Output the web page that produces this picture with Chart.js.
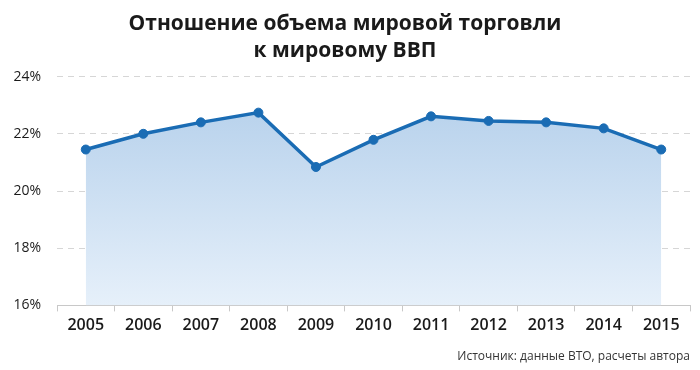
<!DOCTYPE html>
<html><head><meta charset="utf-8">
<script src="https://cdn.jsdelivr.net/npm/chart.js@4"></script>
<style>html,body{margin:0;padding:0;background:#fff}#wrap{width:700px;height:370px}</style>
</head><body><div id="wrap"><canvas id="c" width="700" height="370"></canvas></div>
<script>
const years = ['2005','2006','2007','2008','2009','2010','2011','2012','2013','2014','2015'];
const tradeToGdp = [21.45, 22.0, 22.4, 22.74, 20.84, 21.79, 22.61, 22.45, 22.4, 22.19, 21.45];
const yTicks = [16, 18, 20, 22, 24];
const titleLines = ['Отношение объема мировой торговли', 'к мировому ВВП'];
const sourceText = 'Источник: данные ВТО, расчеты автора';

const ctx = document.getElementById('c').getContext('2d');
new Chart(ctx, {
  type: 'line',
  data: {
    labels: years,
    datasets: [{
      data: tradeToGdp,
      borderColor: '#1a6cb4',
      borderWidth: 3.5,
      pointRadius: 4.5,
      pointBackgroundColor: '#1a6cb4',
      pointBorderColor: '#1a6cb4',
      pointBorderWidth: 1,
      tension: 0,
      fill: 'origin',
      backgroundColor: (c) => {
        const a = c.chart.chartArea;
        if (!a) return 'rgba(190,215,240,0.8)';
        const g = c.chart.ctx.createLinearGradient(0, a.top + 30, 0, a.bottom);
        g.addColorStop(0, '#b8d2ec');
        g.addColorStop(1, '#e6f0fa');
        return g;
      }
    }]
  },
  options: {
    responsive: false,
    animation: false,
    layout: { padding: { left: 0, right: 10, top: 0, bottom: 6 } },
    plugins: {
      legend: { display: false },
      tooltip: { enabled: false },
      title: {
        display: true,
        text: titleLines,
        color: '#1a1a1a',
        font: { family: 'Open Sans', size: 21, weight: 'bold', lineHeight: 1.3 },
        padding: { top: 10, bottom: 12 }
      },
      subtitle: {
        display: true,
        position: 'bottom',
        align: 'end',
        text: sourceText,
        color: '#333',
        font: { family: 'Open Sans', size: 12 },
        padding: { top: 11, bottom: 0 }
      }
    },
    scales: {
      x: {
        offset: true,
        grid: { offset: true, drawOnChartArea: false, drawTicks: true, tickLength: 6, color: '#c8c8c8' },
        border: { display: true, color: '#c8c8c8', width: 1 },
        ticks: { color: '#1a1a1a', font: { family: 'Open Sans', size: 16, weight: '600' }, padding: 4, maxRotation: 0 }
      },
      y: {
        min: 16, max: 24,
        afterBuildTicks: (s) => { s.ticks = yTicks.map(v => ({ value: v })); },
        afterFit: (s) => { s.width = 57; },
        border: { display: false, dash: [6, 5] },
        grid: { color: '#d6d6d6', drawTicks: false, lineWidth: 1 },
        ticks: { color: '#1a1a1a', font: { family: 'Open Sans', size: 14 }, padding: 16, callback: v => v + '%' }
      }
    }
  }
});
</script></body></html>
